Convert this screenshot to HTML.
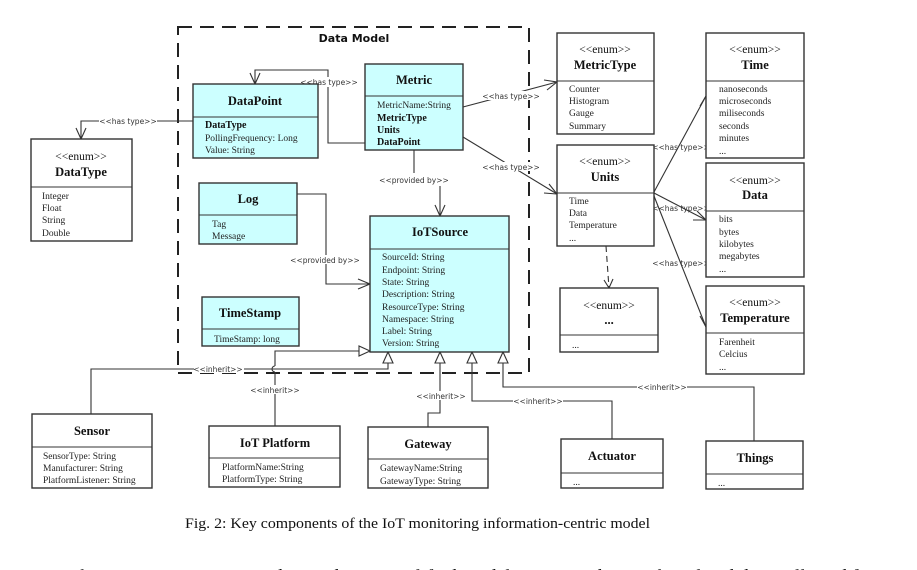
<!DOCTYPE html>
<html><head><meta charset="utf-8"><style>
html,body{margin:0;padding:0;background:#fff;}
svg{display:block;}
.b{fill:#fff;stroke:#333;stroke-width:1.4;}
.c{fill:#ccffff;stroke:#333;stroke-width:1.4;}
.t{font-family:"Liberation Serif",serif;font-weight:bold;font-size:12.5px;fill:#111;text-anchor:middle;}
.e{font-family:"Liberation Serif",serif;font-size:11.5px;fill:#111;text-anchor:middle;}
.a{font-family:"Liberation Serif",serif;font-size:9.5px;fill:#222;}
.ab{font-family:"Liberation Serif",serif;font-size:10px;font-weight:bold;fill:#111;}
.l{font-family:"DejaVu Sans","Liberation Sans",sans-serif;font-size:7.5px;fill:#333;text-anchor:middle;}
.ln{fill:none;stroke:#333;stroke-width:1.1;}
.ar{fill:none;stroke:#333;stroke-width:1.1;}
.tri{fill:#fff;stroke:#333;stroke-width:1.1;}
</style></head><body>
<svg width="917" height="570" viewBox="0 0 917 570" xmlns="http://www.w3.org/2000/svg">
<rect x="178" y="27" width="351" height="346" fill="none" stroke="#222" stroke-width="2" stroke-dasharray="14,8"/>
<text x="354" y="42" font-family="DejaVu Sans,Liberation Sans,sans-serif" font-weight="bold" font-size="11px" text-anchor="middle" fill="#111">Data Model</text>

<polyline class="ln" points="193,121 81,121 81,139"/>
<polyline class="ar" points="76,128 81,139 86,128"/>
<rect x="99" y="116" width="58" height="9" fill="#fff"/>
<text class="l" x="128" y="124">&lt;&lt;has type&gt;&gt;</text>
<polyline class="ln" points="365,143 328,143 328,70 255,70 255,84"/>
<polyline class="ar" points="250,73 255,84 260,73"/>
<rect x="300" y="77" width="57" height="10" fill="#fff"/>
<text class="l" x="329" y="85">&lt;&lt;has type&gt;&gt;</text>
<line class="ln" x1="414" y1="150" x2="414" y2="173"/>
<text class="l" x="414" y="183">&lt;&lt;provided by&gt;&gt;</text>
<line class="ln" x1="440" y1="186" x2="440" y2="216" stroke-width="1.6"/>
<polyline class="ar" points="435,205 440,216 445,205" stroke-width="1.5"/>
<polyline class="ln" points="297,194 326,194 326,284 370,284"/>
<polyline class="ar" points="358,279 370,284 358,289"/>
<rect x="289" y="255" width="72" height="9" fill="#fff"/>
<text class="l" x="325" y="263">&lt;&lt;provided by&gt;&gt;</text>
<line class="ln" x1="463" y1="107" x2="557" y2="82"/>
<polyline class="ar" points="544,80 557,82 547,90"/>
<rect x="482" y="91" width="58" height="9" fill="#fff"/>
<text class="l" x="511" y="99">&lt;&lt;has type&gt;&gt;</text>
<line class="ln" x1="463" y1="137" x2="557" y2="194"/>
<polyline class="ar" points="544,193 557,194 549,184"/>
<rect x="482" y="162" width="58" height="9" fill="#fff"/>
<text class="l" x="511" y="170">&lt;&lt;has type&gt;&gt;</text>
<line class="ln" x1="654" y1="192" x2="706" y2="96"/>
<polyline class="ar" points="700,106 706,96 706,109"/>
<line class="ln" x1="654" y1="193" x2="706" y2="220"/>
<polyline class="ar" points="693,220 706,220 697,211"/>
<line class="ln" x1="654" y1="196" x2="706" y2="327"/>
<polyline class="ar" points="700,316 706,327 707,314"/>
<text class="l" x="681" y="150">&lt;&lt;has type&gt;&gt;</text>
<text class="l" x="681" y="211">&lt;&lt;has type&gt;&gt;</text>
<text class="l" x="681" y="266">&lt;&lt;has type&gt;&gt;</text>
<line class="ln" x1="606" y1="246" x2="609" y2="288" stroke-dasharray="6,4"/>
<polyline class="ar" points="604,280 609,288 613,279"/>

<polyline class="ln" points="91,414 91,369 388,369 388,363"/>
<polygon class="tri" points="383,363 393,363 388,352"/>
<rect x="194" y="364" width="50" height="9" fill="#fff"/>
<text class="l" x="218" y="372">&lt;&lt;inherit&gt;&gt;</text>
<polyline class="ln" points="275,426 275,372"/>
<path class="ln" d="M275,372 A3,3 0 0 1 275,366"/>
<polyline class="ln" points="275,366 275,351 359,351"/>
<polygon class="tri" points="359,346 359,356 370,351"/>
<rect x="250" y="385" width="50" height="9" fill="#fff"/>
<text class="l" x="275" y="393">&lt;&lt;inherit&gt;&gt;</text>
<polyline class="ln" points="428,427 428,413 440,413 440,363"/>
<polygon class="tri" points="435,363 445,363 440,352"/>
<rect x="416" y="391" width="50" height="9" fill="#fff"/>
<text class="l" x="441" y="399">&lt;&lt;inherit&gt;&gt;</text>
<polyline class="ln" points="612,439 612,401 472,401 472,363"/>
<polygon class="tri" points="467,363 477,363 472,352"/>
<rect x="513" y="396" width="50" height="9" fill="#fff"/>
<text class="l" x="538" y="404">&lt;&lt;inherit&gt;&gt;</text>
<polyline class="ln" points="754,441 754,387 503,387 503,363"/>
<polygon class="tri" points="498,363 508,363 503,352"/>
<rect x="637" y="382" width="50" height="9" fill="#fff"/>
<text class="l" x="662" y="390">&lt;&lt;inherit&gt;&gt;</text>

<rect class="b" x="31" y="139" width="101" height="102"/><line class="ln" x1="31" y1="187" x2="132" y2="187" stroke-width="1.4"/>
<text class="e" x="81" y="160">&lt;&lt;enum&gt;&gt;</text><text class="t" x="81" y="176">DataType</text>
<text class="a" x="42" y="199">Integer</text><text class="a" x="42" y="211">Float</text><text class="a" x="42" y="223">String</text><text class="a" x="42" y="236">Double</text>

<rect class="c" x="193" y="84" width="125" height="74"/><line class="ln" x1="193" y1="117" x2="318" y2="117" stroke-width="1.4"/>
<text class="t" x="255" y="105">DataPoint</text>
<text class="ab" x="205" y="128">DataType</text><text class="a" x="205" y="141">PollingFrequency: Long</text><text class="a" x="205" y="153">Value: String</text>

<rect class="c" x="365" y="64" width="98" height="86"/><line class="ln" x1="365" y1="96" x2="463" y2="96" stroke-width="1.4"/>
<text class="t" x="414" y="84">Metric</text>
<text class="a" x="377" y="108">MetricName:String</text><text class="ab" x="377" y="121">MetricType</text><text class="ab" x="377" y="133">Units</text><text class="ab" x="377" y="145">DataPoint</text>

<rect class="c" x="199" y="183" width="98" height="61"/><line class="ln" x1="199" y1="215" x2="297" y2="215" stroke-width="1.4"/>
<text class="t" x="248" y="203">Log</text>
<text class="a" x="212" y="227">Tag</text><text class="a" x="212" y="239">Message</text>

<rect class="c" x="202" y="297" width="97" height="49"/><line class="ln" x1="202" y1="329" x2="299" y2="329" stroke-width="1.4"/>
<text class="t" x="250" y="317">TimeStamp</text>
<text class="a" x="214" y="342">TimeStamp: long</text>

<rect class="c" x="370" y="216" width="139" height="136"/><line class="ln" x1="370" y1="249" x2="509" y2="249" stroke-width="1.4"/>
<text class="t" x="440" y="236">IoTSource</text>
<text class="a" x="382" y="260">SourceId: String</text><text class="a" x="382" y="273">Endpoint: String</text><text class="a" x="382" y="285">State: String</text><text class="a" x="382" y="297">Description: String</text><text class="a" x="382" y="310">ResourceType: String</text><text class="a" x="382" y="322">Namespace: String</text><text class="a" x="382" y="334">Label: String</text><text class="a" x="382" y="346">Version: String</text>

<rect class="b" x="557" y="33" width="97" height="101"/><line class="ln" x1="557" y1="81" x2="654" y2="81" stroke-width="1.4"/>
<text class="e" x="605" y="53">&lt;&lt;enum&gt;&gt;</text><text class="t" x="605" y="69">MetricType</text>
<text class="a" x="569" y="92">Counter</text><text class="a" x="569" y="104">Histogram</text><text class="a" x="569" y="116">Gauge</text><text class="a" x="569" y="129">Summary</text>

<rect class="b" x="557" y="145" width="97" height="101"/><line class="ln" x1="557" y1="193" x2="654" y2="193" stroke-width="1.4"/>
<text class="e" x="605" y="165">&lt;&lt;enum&gt;&gt;</text><text class="t" x="605" y="181">Units</text>
<text class="a" x="569" y="204">Time</text><text class="a" x="569" y="216">Data</text><text class="a" x="569" y="228">Temperature</text><text class="a" x="569" y="241">...</text>

<rect class="b" x="560" y="288" width="98" height="64"/><line class="ln" x1="560" y1="335" x2="658" y2="335" stroke-width="1.4"/>
<text class="e" x="609" y="309">&lt;&lt;enum&gt;&gt;</text><text class="t" x="609" y="324">...</text>
<text class="a" x="572" y="348">...</text>

<rect class="b" x="706" y="33" width="98" height="125"/><line class="ln" x1="706" y1="81" x2="804" y2="81" stroke-width="1.4"/>
<text class="e" x="755" y="53">&lt;&lt;enum&gt;&gt;</text><text class="t" x="755" y="69">Time</text>
<text class="a" x="719" y="92">nanoseconds</text><text class="a" x="719" y="104">microseconds</text><text class="a" x="719" y="116">miliseconds</text><text class="a" x="719" y="129">seconds</text><text class="a" x="719" y="141">minutes</text><text class="a" x="719" y="154">...</text>

<rect class="b" x="706" y="163" width="98" height="114"/><line class="ln" x1="706" y1="211" x2="804" y2="211" stroke-width="1.4"/>
<text class="e" x="755" y="184">&lt;&lt;enum&gt;&gt;</text><text class="t" x="755" y="199">Data</text>
<text class="a" x="719" y="222">bits</text><text class="a" x="719" y="235">bytes</text><text class="a" x="719" y="247">kilobytes</text><text class="a" x="719" y="259">megabytes</text><text class="a" x="719" y="272">...</text>

<rect class="b" x="706" y="286" width="98" height="88"/><line class="ln" x1="706" y1="333" x2="804" y2="333" stroke-width="1.4"/>
<text class="e" x="755" y="306">&lt;&lt;enum&gt;&gt;</text><text class="t" x="755" y="322">Temperature</text>
<text class="a" x="719" y="345">Farenheit</text><text class="a" x="719" y="357">Celcius</text><text class="a" x="719" y="370">...</text>

<rect class="b" x="32" y="414" width="120" height="74"/><line class="ln" x1="32" y1="447" x2="152" y2="447" stroke-width="1.4"/>
<text class="t" x="92" y="435">Sensor</text>
<text class="a" x="43" y="459">SensorType: String</text><text class="a" x="43" y="471">Manufacturer: String</text><text class="a" x="43" y="483">PlatformListener: String</text>

<rect class="b" x="209" y="426" width="131" height="61"/><line class="ln" x1="209" y1="458" x2="340" y2="458" stroke-width="1.4"/>
<text class="t" x="275" y="447">IoT Platform</text>
<text class="a" x="222" y="470">PlatformName:String</text><text class="a" x="222" y="482">PlatformType: String</text>

<rect class="b" x="368" y="427" width="120" height="61"/><line class="ln" x1="368" y1="459" x2="488" y2="459" stroke-width="1.4"/>
<text class="t" x="428" y="448">Gateway</text>
<text class="a" x="380" y="471">GatewayName:String</text><text class="a" x="380" y="484">GatewayType: String</text>

<rect class="b" x="561" y="439" width="102" height="49"/><line class="ln" x1="561" y1="473" x2="663" y2="473" stroke-width="1.4"/>
<text class="t" x="612" y="460">Actuator</text>
<text class="a" x="573" y="485">...</text>

<rect class="b" x="706" y="441" width="97" height="48"/><line class="ln" x1="706" y1="474" x2="803" y2="474" stroke-width="1.4"/>
<text class="t" x="755" y="462">Things</text>
<text class="a" x="718" y="486">...</text>

<text x="185" y="528" font-family="Liberation Serif,serif" font-size="15px" fill="#111" textLength="465" lengthAdjust="spacingAndGlyphs">Fig. 2: Key components of the IoT monitoring information-centric model</text>
<text x="75" y="581" font-family="Liberation Serif,serif" font-size="17px" fill="#111" textLength="815" lengthAdjust="spacingAndGlyphs">this section. Sections are depicted in a simplified model corresponding to the related data collected from</text>
</svg>
</body></html>
